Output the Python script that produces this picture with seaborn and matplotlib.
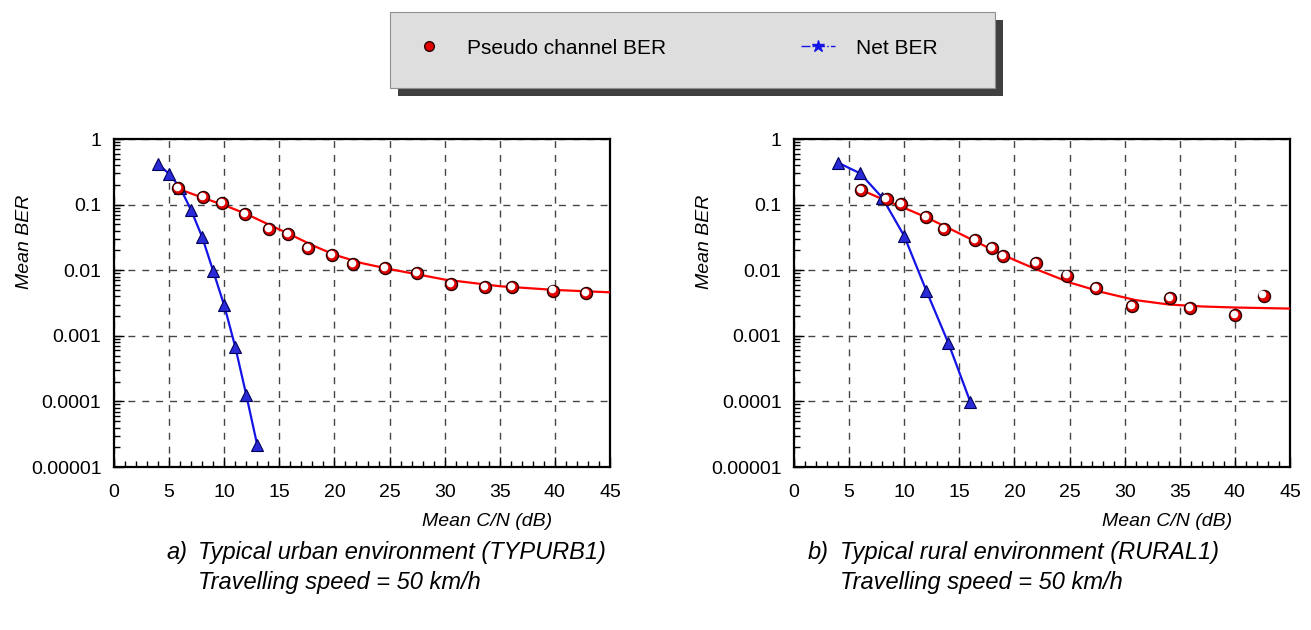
import numpy as np
import matplotlib
matplotlib.use('Agg')
import matplotlib.pyplot as plt
import matplotlib.ticker as mticker
import matplotlib.transforms as mtransforms
from matplotlib.patches import Rectangle
from matplotlib.lines import Line2D
import seaborn as sns

# a) urban - pseudo channel BER (points + trend curve) and net BER
urban_pts_cn = [5.8, 8.1, 9.8, 11.9, 14.1, 15.8, 17.6, 19.8, 21.7, 24.6, 27.5, 30.6, 33.7, 36.1, 39.8, 42.8]
urban_pts_ber = [0.177, 0.129, 0.105, 0.072, 0.043, 0.0356, 0.022, 0.0169, 0.0126, 0.0107, 0.0090,
                 0.0062, 0.0055, 0.0055, 0.0049, 0.0045]
urban_fit_cn = [5.8, 8, 10, 12, 14, 16, 18, 20, 22.5, 25, 30, 35, 40, 45]
urban_fit_ber = [0.175, 0.128, 0.098, 0.072, 0.050, 0.035, 0.024, 0.0172, 0.0128, 0.0104, 0.0072,
                 0.0057, 0.0050, 0.0046]
urban_net_cn = [4, 5, 6, 7, 8, 9, 10, 11, 12, 13]
urban_net_ber = [0.41, 0.296, 0.181, 0.082, 0.032, 0.0097, 0.0029, 0.00068, 0.000125, 0.0000214]

# b) rural
rural_pts_cn = [6.1, 8.4, 9.7, 12.0, 13.6, 16.4, 18.0, 19.0, 22.0, 24.8, 27.4, 30.7, 34.1, 35.9, 40.0, 42.6]
rural_pts_ber = [0.167, 0.12, 0.102, 0.064, 0.0425, 0.0288, 0.0218, 0.0165, 0.0127, 0.0083, 0.0054,
                 0.0028, 0.0038, 0.00265, 0.0021, 0.0041]
rural_fit_cn = [6.1, 8, 10, 12, 14, 16, 18, 20, 22, 25, 28, 31, 34, 37, 40, 45]
rural_fit_ber = [0.167, 0.122, 0.089, 0.064, 0.044, 0.030, 0.0205, 0.0143, 0.0103, 0.0065, 0.0046,
                 0.0035, 0.0030, 0.0028, 0.0027, 0.0026]
rural_net_cn = [4, 6, 8, 10, 12, 14, 16]
rural_net_ber = [0.435, 0.30, 0.128, 0.0332, 0.0049, 0.00078, 0.0000978]

ber_ticks = [1e-5, 1e-4, 1e-3, 1e-2, 1e-1, 1]
ber_labels = ['0.00001', '0.0001', '0.001', '0.01', '0.1', '1']

captions = [('a)', 'Typical urban environment (TYPURB1)', 'Travelling speed = 50 km/h'),
            ('b)', 'Typical rural environment (RURAL1)', 'Travelling speed = 50 km/h')]

sns.set_theme(style='white')
plt.rcParams['font.family'] = ['Liberation Sans', 'DejaVu Sans']
plt.rcParams['text.color'] = 'black'
plt.rcParams['axes.labelcolor'] = 'black'
plt.rcParams['xtick.color'] = 'black'
plt.rcParams['ytick.color'] = 'black'

W, H = 1311, 630
fig = plt.figure(figsize=(W / 100, H / 100), dpi=100)
ax_a = fig.add_axes([114 / W, 163 / H, 496 / W, 328 / H])
ax_b = fig.add_axes([794 / W, 163 / H, 496 / W, 328 / H])

RED = '#ff0000'
BLUE = '#1414e6'


def draw_panel(ax, pts_cn, pts_ber, fit_cn, fit_ber, net_cn, net_ber):
    ax.set_yscale('log')
    ax.set_xlim(0, 45)
    ax.set_ylim(1e-5, 1)
    sns.lineplot(x=fit_cn, y=fit_ber, ax=ax, color=RED, lw=1.6, zorder=3)
    sns.lineplot(x=net_cn, y=net_ber, ax=ax, color=BLUE, lw=1.6, marker='^', markersize=8,
                 markerfacecolor='#2a2ad6', markeredgecolor='#00005a', markeredgewidth=0.8, zorder=4)
    sns.scatterplot(x=pts_cn, y=pts_ber, ax=ax, marker='o', s=75, color='#e00000',
                    edgecolor='#2a0000', linewidth=1, zorder=5)
    # white highlight so the balls look shaded
    hl = mtransforms.offset_copy(ax.transData, fig=fig, x=-0.8, y=0.8, units='points')
    ax.scatter(pts_cn, pts_ber, s=30, color='white', linewidths=0, transform=hl, zorder=6)

    ax.xaxis.set_major_locator(mticker.MultipleLocator(5))
    ax.xaxis.set_minor_locator(mticker.MultipleLocator(1))
    ax.yaxis.set_major_locator(mticker.FixedLocator(ber_ticks))
    ax.yaxis.set_major_formatter(mticker.FixedFormatter(ber_labels))
    ax.yaxis.set_minor_locator(mticker.LogLocator(base=10, subs=np.arange(2, 10), numticks=20))
    ax.yaxis.set_minor_formatter(mticker.NullFormatter())
    ax.tick_params(which='both', direction='in', top=False, right=False, left=True, bottom=True,
                   colors='black', labelcolor='black', width=1)
    ax.tick_params(which='major', length=7, labelsize=14, pad=9)
    ax.tick_params(axis='x', which='major', pad=12)
    ax.tick_params(which='minor', length=4)
    ax.grid(which='major', color='#454545', linestyle=(0, (5, 5)), lw=1)
    ax.grid(which='minor', visible=False)
    for sp in ax.spines.values():
        sp.set_color('black')
        sp.set_linewidth(1.6)

    ax.set_ylabel('Mean BER', fontstyle='italic', fontsize=14, color='black')
    ax.yaxis.set_label_coords(-0.163, 0.686)
    ax.set_xlabel('Mean C/N (dB)', fontstyle='italic', fontsize=14, color='black')
    ax.xaxis.set_label_coords(0.752, -0.14)


draw_panel(ax_a, urban_pts_cn, urban_pts_ber, urban_fit_cn, urban_fit_ber, urban_net_cn, urban_net_ber)
draw_panel(ax_b, rural_pts_cn, rural_pts_ber, rural_fit_cn, rural_fit_ber, rural_net_cn, rural_net_ber)

# legend box with a hard drop shadow
fig.add_artist(Rectangle((398 / W, (H - 96) / H), 605 / W, 76 / H, transform=fig.transFigure,
                         facecolor='#404040', edgecolor='none', zorder=0))
fig.add_artist(Rectangle((390 / W, (H - 88) / H), 605 / W, 76 / H, transform=fig.transFigure,
                         facecolor='#dedede', edgecolor='#909090', lw=0.8, zorder=1))
handles = [Line2D([], [], ls='none', marker='o', mfc='#e00000', mec='#2a0000', ms=7,
                  label='Pseudo channel BER'),
           Line2D([], [], color=BLUE, ls='-.', lw=1, marker='*', ms=9, label='Net BER')]
leg = fig.legend(handles=handles, loc='center', bbox_to_anchor=(675 / W, (H - 48) / H), ncol=2,
                 frameon=False, fontsize=15, handlelength=1.6, handletextpad=1.0, columnspacing=6.5)
leg.set_zorder(2)

# captions under each panel
for x0, (tag, line1, line2) in zip([166, 808], captions):
    fig.text(x0 / W, 1 - 552 / H, tag, fontsize=17, fontstyle='italic', va='center')
    fig.text((x0 + 32) / W, 1 - 552 / H, line1, fontsize=17, fontstyle='italic', va='center')
    fig.text((x0 + 32) / W, 1 - 582 / H, line2, fontsize=17, fontstyle='italic', va='center')

fig.savefig('out.png', dpi=100)
